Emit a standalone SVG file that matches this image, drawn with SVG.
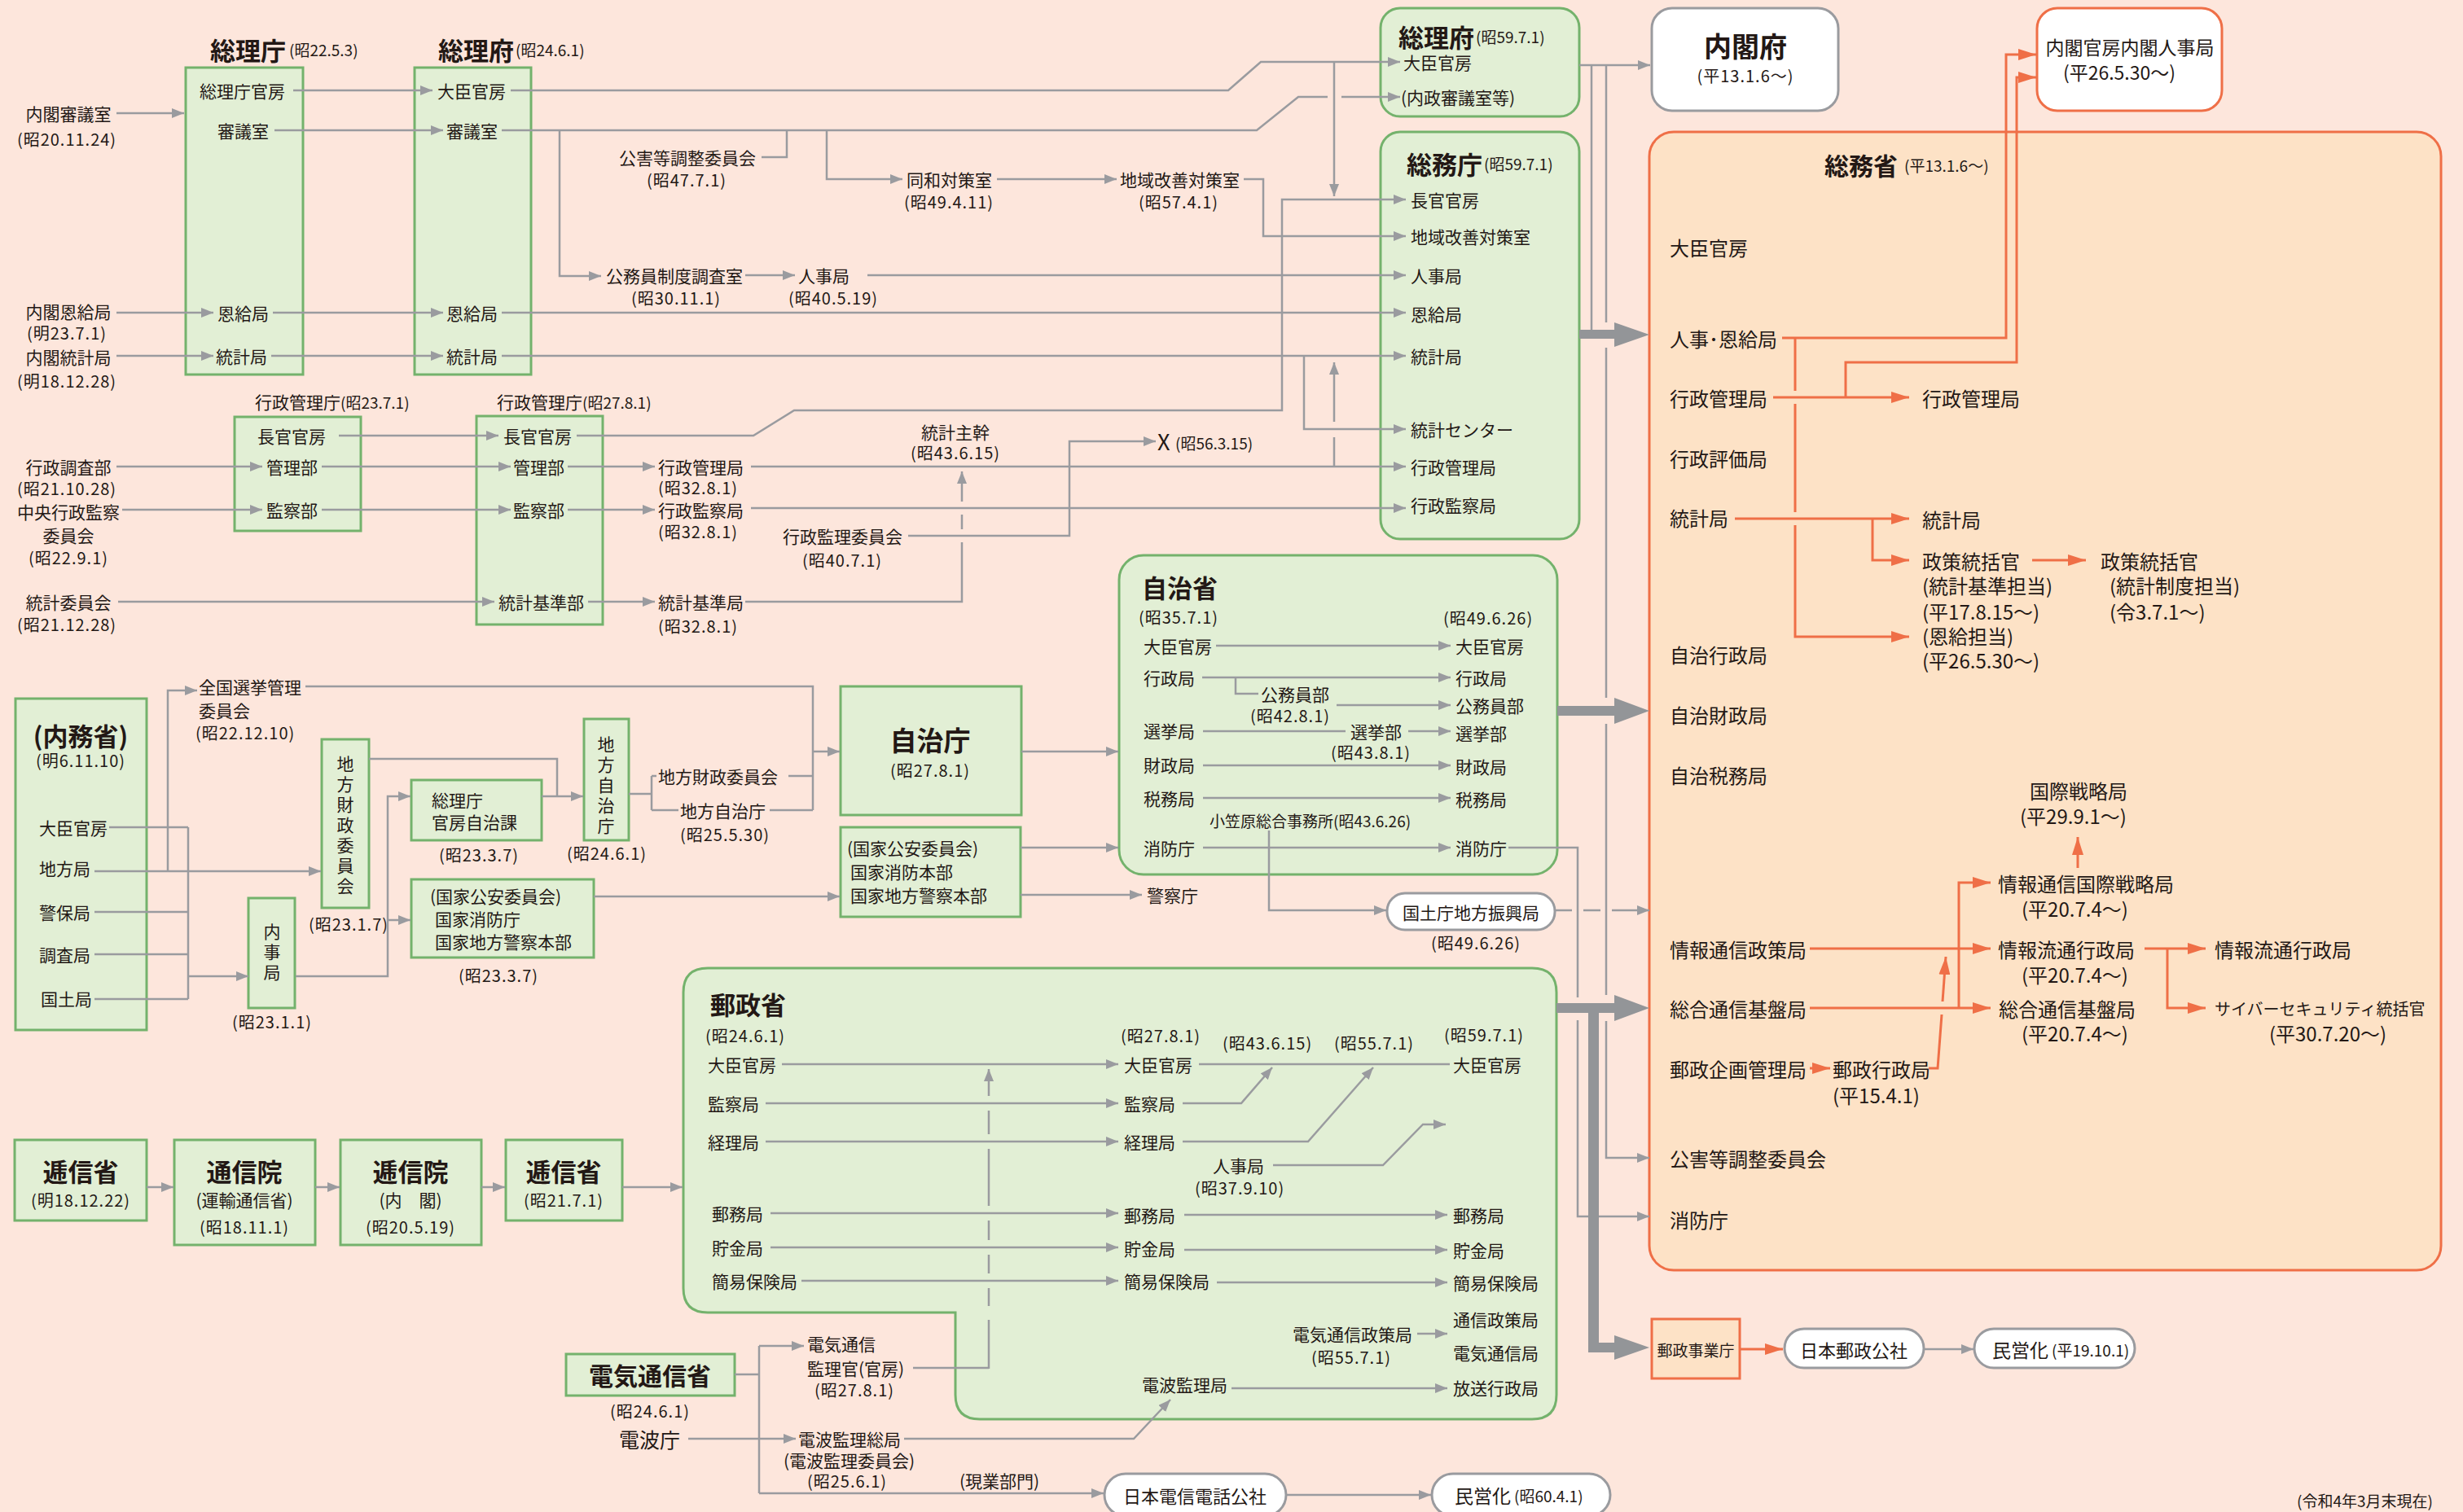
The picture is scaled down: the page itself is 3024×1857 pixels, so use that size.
<svg xmlns="http://www.w3.org/2000/svg" width="3024" height="1857" viewBox="0 0 3024 1857">
<style>
.t{font-family:"Noto Sans CJK JP","Noto Sans CJK SC",sans-serif;font-size:21px;fill:#231815;dominant-baseline:central}
.s{font-size:20px;font-weight:normal;letter-spacing:1px}
.ss{font-size:19px;font-weight:normal}
.b{font-size:31px;font-weight:bold}
.L{font-size:24px}
.m{text-anchor:middle}
.g{fill:#e2efd5;stroke:#74b26c;stroke-width:3}
.o{fill:#fde2c6;stroke:#ef6f47;stroke-width:3}
.w{fill:#fff;stroke:#9a9b9f;stroke-width:3}
.wo{fill:#fff;stroke:#ef6f47;stroke-width:3}
.l{fill:none;stroke:#9a9b9f;stroke-width:2.5}
.a{marker-end:url(#ga)}
.ol{fill:none;stroke:#ef6f47;stroke-width:3}
.oa{marker-end:url(#oa)}
.big{fill:#939598}
</style>
<defs>
<marker id="ga" markerUnits="userSpaceOnUse" markerWidth="15" markerHeight="12" refX="15" refY="6" orient="auto"><path d="M0,0L15,6L0,12z" fill="#9a9b9f"/></marker>
<marker id="oa" markerUnits="userSpaceOnUse" markerWidth="22" markerHeight="14" refX="22" refY="7" orient="auto"><path d="M0,0L22,7L0,14z" fill="#ef6f47"/></marker>
</defs>
<rect x="0" y="0" width="3024" height="1857" fill="#fde6dc"/>

<!-- ===== nodes ===== -->
<g id="naikaku-shingi"><text class="t m" x="84" y="139">内閣審議室</text><text class="t s m" x="82" y="170">(昭20.11.24)</text></g>
<g id="naikaku-onkyu"><text class="t m" x="84" y="382">内閣恩給局</text><text class="t s m" x="82" y="408">(明23.7.1)</text></g>
<g id="naikaku-tokei"><text class="t m" x="84" y="438">内閣統計局</text><text class="t s m" x="82" y="467">(明18.12.28)</text></g>

<g id="soricho">
<text class="t b" x="258" y="60">総理庁<tspan class="ss" dx="4">(昭22.5.3)</tspan></text>
<rect class="g" x="228" y="83" width="144" height="377"/>
<text class="t" x="245" y="111">総理庁官房</text>
<text class="t" x="267" y="160">審議室</text>
<text class="t" x="267" y="384">恩給局</text>
<text class="t" x="265" y="437">統計局</text>
</g>
<g id="sorifu24">
<text class="t b" x="538" y="60">総理府<tspan class="ss" dx="2">(昭24.6.1)</tspan></text>
<rect class="g" x="509" y="83" width="143" height="377"/>
<text class="t" x="537" y="111">大臣官房</text>
<text class="t" x="548" y="160">審議室</text>
<text class="t" x="548" y="384">恩給局</text>
<text class="t" x="548" y="437">統計局</text>
</g>

<g id="kogai"><text class="t" x="760" y="193">公害等調整委員会</text><text class="t s m" x="843" y="220">(昭47.7.1)</text></g>
<g id="dowa"><text class="t" x="1113" y="220">同和対策室</text><text class="t s m" x="1165" y="247">(昭49.4.11)</text></g>
<g id="chiiki"><text class="t" x="1375" y="220">地域改善対策室</text><text class="t s m" x="1447" y="247">(昭57.4.1)</text></g>
<g id="komuin"><text class="t" x="744" y="338">公務員制度調査室</text><text class="t s m" x="830" y="365">(昭30.11.1)</text></g>
<g id="jinji40"><text class="t" x="980" y="338">人事局</text><text class="t s m" x="1023" y="365">(昭40.5.19)</text></g>

<g id="sorifu59">
<rect class="g" x="1695" y="10" width="244" height="133" rx="24"/>
<text class="t b" x="1717" y="44">総理府<tspan class="ss" dx="2">(昭59.7.1)</tspan></text>
<text class="t" x="1723" y="76">大臣官房</text>
<text class="t" x="1720" y="119">(内政審議室等)</text>
</g>
<g id="somucho">
<rect class="g" x="1695" y="162" width="244" height="500" rx="24"/>
<text class="t b" x="1727" y="200">総務庁<tspan class="ss" dx="2">(昭59.7.1)</tspan></text>
<text class="t" x="1732" y="245">長官官房</text>
<text class="t" x="1732" y="290">地域改善対策室</text>
<text class="t" x="1732" y="338">人事局</text>
<text class="t" x="1732" y="385">恩給局</text>
<text class="t" x="1732" y="437">統計局</text>
<text class="t" x="1732" y="527">統計センター</text>
<text class="t" x="1732" y="573">行政管理局</text>
<text class="t" x="1732" y="620">行政監察局</text>
</g>

<g id="naikakufu">
<rect class="w" x="2028" y="10" width="229" height="126" rx="25"/>
<text class="t b m" x="2143" y="55" style="font-size:34px">内閣府</text>
<text class="t s m" x="2143" y="92">(平13.1.6～)</text>
</g>
<g id="jinjikyoku">
<rect class="wo" x="2501" y="10" width="227" height="126" rx="25"/>
<text class="t m" x="2615" y="57" style="font-size:23px">内閣官房内閣人事局</text>
<text class="t m" x="2602" y="88" style="font-size:23px">(平26.5.30～)</text>
</g>

<g id="gyosei-left">
<text class="t m" x="84" y="573">行政調査部</text><text class="t s m" x="82" y="599">(昭21.10.28)</text>
<text class="t m" x="84" y="628">中央行政監察</text><text class="t m" x="84" y="657">委員会</text><text class="t s m" x="84" y="684">(昭22.9.1)</text>
<text class="t m" x="84" y="739">統計委員会</text><text class="t s m" x="82" y="766">(昭21.12.28)</text>
</g>
<g id="gyoseikanricho23">
<text class="t" x="313" y="493">行政管理庁<tspan class="ss">(昭23.7.1)</tspan></text>
<rect class="g" x="288" y="512" width="155" height="140"/>
<text class="t" x="316" y="535">長官官房</text>
<text class="t" x="327" y="573">管理部</text>
<text class="t" x="327" y="626">監察部</text>
</g>
<g id="gyoseikanricho27">
<text class="t" x="610" y="493">行政管理庁<tspan class="ss">(昭27.8.1)</tspan></text>
<rect class="g" x="585" y="511" width="155" height="256"/>
<text class="t" x="618" y="535">長官官房</text>
<text class="t" x="630" y="573">管理部</text>
<text class="t" x="630" y="626">監察部</text>
<text class="t" x="612" y="739">統計基準部</text>
</g>
<g id="gyosei32">
<text class="t" x="808" y="573">行政管理局</text><text class="t s" x="808" y="598">(昭32.8.1)</text>
<text class="t" x="808" y="626">行政監察局</text><text class="t s" x="808" y="652">(昭32.8.1)</text>
<text class="t" x="808" y="739">統計基準局</text><text class="t s" x="808" y="768">(昭32.8.1)</text>
</g>
<g id="tokeishukan"><text class="t m" x="1173" y="530">統計主幹</text><text class="t s m" x="1173" y="555">(昭43.6.15)</text></g>
<g id="kanri-iinkai"><text class="t" x="961" y="658">行政監理委員会</text><text class="t s m" x="1034" y="687">(昭40.7.1)</text></g>
<g id="haishi56"><text class="t" x="1421" y="541" style="font-size:27px">X</text><text class="t ss" x="1443" y="543">(昭56.3.15)</text></g>

<!-- 総務省 -->
<g id="somusho">
<rect class="o" x="2025" y="162" width="972" height="1398" rx="30"/>
<text class="t b" x="2240" y="202" style="font-size:30px">総務省<tspan class="ss" dx="8">(平13.1.6～)</tspan></text>
<text class="t L" x="2050" y="303">大臣官房</text>
<text class="t L" x="2050" y="415">人事･恩給局</text>
<text class="t L" x="2050" y="488">行政管理局</text>
<text class="t L" x="2050" y="562">行政評価局</text>
<text class="t L" x="2050" y="635">統計局</text>
<text class="t L" x="2050" y="803">自治行政局</text>
<text class="t L" x="2050" y="877">自治財政局</text>
<text class="t L" x="2050" y="951">自治税務局</text>
<text class="t L" x="2050" y="1165">情報通信政策局</text>
<text class="t L" x="2050" y="1238">総合通信基盤局</text>
<text class="t L" x="2050" y="1312">郵政企画管理局</text>
<text class="t L" x="2050" y="1422">公害等調整委員会</text>
<text class="t L" x="2050" y="1497">消防庁</text>
<text class="t L" x="2360" y="488">行政管理局</text>
<text class="t L" x="2360" y="637">統計局</text>
<text class="t L" x="2360" y="688">政策統括官</text>
<text class="t L" x="2360" y="718">(統計基準担当)</text>
<text class="t L" x="2360" y="750">(平17.8.15～)</text>
<text class="t L" x="2360" y="780">(恩給担当)</text>
<text class="t L" x="2360" y="810">(平26.5.30～)</text>
<text class="t L" x="2579" y="688">政策統括官</text>
<text class="t L" x="2590" y="718">(統計制度担当)</text>
<text class="t L" x="2590" y="750">(令3.7.1～)</text>
<text class="t L" x="2492" y="970">国際戦略局</text>
<text class="t L" x="2480" y="1001">(平29.9.1～)</text>
<text class="t L" x="2453" y="1084">情報通信国際戦略局</text>
<text class="t L" x="2482" y="1115">(平20.7.4～)</text>
<text class="t L" x="2453" y="1165">情報流通行政局</text>
<text class="t L" x="2482" y="1196">(平20.7.4～)</text>
<text class="t L" x="2454" y="1238">総合通信基盤局</text>
<text class="t L" x="2482" y="1268">(平20.7.4～)</text>
<text class="t L" x="2250" y="1312">郵政行政局</text>
<text class="t L" x="2250" y="1344">(平15.4.1)</text>
<text class="t L" x="2719" y="1165">情報流通行政局</text>
<text class="t" x="2719" y="1238" style="font-size:20px">サイバーセキュリティ統括官</text>
<text class="t L m" x="2858" y="1268">(平30.7.20～)</text>
</g>

<g id="yuseijigyocho"><rect class="o" x="2028" y="1620" width="108" height="73"/><text class="t m" x="2082" y="1657" style="font-size:19px">郵政事業庁</text></g>
<g id="yuseikosha"><rect class="w" x="2191" y="1632" width="171" height="48" rx="24"/><text class="t m" x="2276" y="1657" style="font-size:22px">日本郵政公社</text></g>
<g id="mineika19"><rect class="w" x="2424" y="1632" width="197" height="48" rx="24"/><text class="t" x="2446" y="1657" style="font-size:23px">民営化<tspan class="ss" dx="4">(平19.10.1)</tspan></text></g>

<!-- 内務省・自治 -->
<g id="naimusho">
<rect class="g" x="19" y="858" width="161" height="407"/>
<text class="t b m" x="99" y="902">(内務省)</text>
<text class="t s m" x="99" y="933">(明6.11.10)</text>
<text class="t" x="48" y="1016">大臣官房</text>
<text class="t" x="48" y="1066">地方局</text>
<text class="t" x="48" y="1120">警保局</text>
<text class="t" x="48" y="1172">調査局</text>
<text class="t" x="50" y="1226">国土局</text>
</g>
<g id="senkyo"><text class="t" x="244" y="843">全国選挙管理</text><text class="t" x="244" y="872">委員会</text><text class="t s" x="240" y="899">(昭22.12.10)</text></g>
<g id="chihozaisei23">
<rect class="g" x="395" y="908" width="58" height="207"/>
<text class="t m" x="424" y="937">地</text><text class="t m" x="424" y="962">方</text><text class="t m" x="424" y="987">財</text><text class="t m" x="424" y="1012">政</text><text class="t m" x="424" y="1037">委</text><text class="t m" x="424" y="1062">員</text><text class="t m" x="424" y="1087">会</text>
<text class="t s m" x="428" y="1134">(昭23.1.7)</text>
</g>
<g id="naijikyoku">
<rect class="g" x="305" y="1103" width="57" height="135"/>
<text class="t m" x="334" y="1143">内</text><text class="t m" x="334" y="1168">事</text><text class="t m" x="334" y="1193">局</text>
<text class="t s m" x="334" y="1254">(昭23.1.1)</text>
</g>
<g id="jichika">
<rect class="g" x="505" y="958" width="160" height="74"/>
<text class="t" x="530" y="982">総理庁</text><text class="t" x="530" y="1009">官房自治課</text>
<text class="t s m" x="588" y="1049">(昭23.3.7)</text>
</g>
<g id="kokka1">
<rect class="g" x="505" y="1080" width="224" height="96"/>
<text class="t" x="528" y="1100">(国家公安委員会)</text>
<text class="t" x="534" y="1128">国家消防庁</text>
<text class="t" x="534" y="1156">国家地方警察本部</text>
<text class="t s m" x="612" y="1197">(昭23.3.7)</text>
</g>
<g id="chihojichicho">
<rect class="g" x="717" y="883" width="55" height="149"/>
<text class="t m" x="744" y="913">地</text><text class="t m" x="744" y="938">方</text><text class="t m" x="744" y="963">自</text><text class="t m" x="744" y="988">治</text><text class="t m" x="744" y="1013">庁</text>
<text class="t s m" x="745" y="1047">(昭24.6.1)</text>
</g>
<g id="chiho25"><text class="t" x="808" y="953">地方財政委員会</text><text class="t" x="835" y="995">地方自治庁</text><text class="t s m" x="890" y="1024">(昭25.5.30)</text></g>
<g id="jichicho">
<rect class="g" x="1032" y="843" width="222" height="158"/>
<text class="t b m" x="1142" y="908" style="font-size:33px">自治庁</text>
<text class="t s m" x="1142" y="945">(昭27.8.1)</text>
</g>
<g id="kokka2">
<rect class="g" x="1032" y="1016" width="221" height="110"/>
<text class="t" x="1040" y="1041">(国家公安委員会)</text>
<text class="t" x="1044" y="1070">国家消防本部</text>
<text class="t" x="1044" y="1099">国家地方警察本部</text>
</g>
<g id="keisatsucho"><text class="t" x="1408" y="1099">警察庁</text></g>
<g id="jichisho">
<rect class="g" x="1374" y="682" width="538" height="392" rx="30"/>
<text class="t b" x="1402" y="720">自治省</text>
<text class="t s" x="1398" y="757">(昭35.7.1)</text>
<text class="t s" x="1772" y="758">(昭49.6.26)</text>
<text class="t" x="1404" y="793">大臣官房</text>
<text class="t" x="1404" y="832">行政局</text>
<text class="t" x="1404" y="897">選挙局</text>
<text class="t" x="1404" y="939">財政局</text>
<text class="t" x="1404" y="980">税務局</text>
<text class="t" x="1404" y="1041">消防庁</text>
<text class="t" x="1548" y="852">公務員部</text><text class="t s" x="1535" y="878">(昭42.8.1)</text>
<text class="t" x="1658" y="898">選挙部</text><text class="t s" x="1634" y="923">(昭43.8.1)</text>
<text class="t ss" x="1485" y="1007">小笠原総合事務所(昭43.6.26)</text>
<text class="t" x="1787" y="793">大臣官房</text>
<text class="t" x="1787" y="832">行政局</text>
<text class="t" x="1787" y="866">公務員部</text>
<text class="t" x="1787" y="900">選挙部</text>
<text class="t" x="1787" y="941">財政局</text>
<text class="t" x="1787" y="981">税務局</text>
<text class="t" x="1787" y="1041">消防庁</text>
</g>
<g id="kokudocho">
<rect class="w" x="1703" y="1097" width="206" height="45" rx="22"/>
<text class="t m" x="1806" y="1120">国土庁地方振興局</text>
<text class="t s m" x="1812" y="1157">(昭49.6.26)</text>
</g>

<!-- 逓信 -->
<g id="teishin18"><rect class="g" x="18" y="1400" width="162" height="99"/><text class="t b m" x="99" y="1437">逓信省</text><text class="t s m" x="99" y="1473">(明18.12.22)</text></g>
<g id="tsushinin"><rect class="g" x="214" y="1400" width="173" height="129"/><text class="t b m" x="300" y="1437">通信院</text><text class="t m" x="300" y="1473">(運輸通信省)</text><text class="t s m" x="300" y="1506">(昭18.11.1)</text></g>
<g id="teishinin"><rect class="g" x="418" y="1400" width="173" height="129"/><text class="t b m" x="504" y="1437">逓信院</text><text class="t m" x="504" y="1473">(内　閣)</text><text class="t s m" x="504" y="1506">(昭20.5.19)</text></g>
<g id="teishin21"><rect class="g" x="621" y="1400" width="143" height="99"/><text class="t b m" x="692" y="1437">逓信省</text><text class="t s m" x="692" y="1473">(昭21.7.1)</text></g>

<g id="yuseisho">
<path class="g" d="M869,1189H1881Q1911,1189 1911,1219V1713Q1911,1743 1881,1743H1203Q1173,1743 1173,1713V1612H869Q839,1612 839,1582V1219Q839,1189 869,1189Z"/>
<text class="t b" x="872" y="1232">郵政省</text>
<text class="t s" x="866" y="1271">(昭24.6.1)</text>
<text class="t" x="869" y="1307">大臣官房</text>
<text class="t" x="869" y="1355">監察局</text>
<text class="t" x="869" y="1402">経理局</text>
<text class="t" x="874" y="1490">郵務局</text>
<text class="t" x="874" y="1532">貯金局</text>
<text class="t" x="874" y="1573">簡易保険局</text>
<text class="t s" x="1376" y="1271">(昭27.8.1)</text>
<text class="t" x="1380" y="1307">大臣官房</text>
<text class="t" x="1380" y="1355">監察局</text>
<text class="t" x="1380" y="1402">経理局</text>
<text class="t" x="1380" y="1492">郵務局</text>
<text class="t" x="1380" y="1533">貯金局</text>
<text class="t" x="1380" y="1573">簡易保険局</text>
<text class="t s" x="1501" y="1280">(昭43.6.15)</text>
<text class="t s" x="1638" y="1280">(昭55.7.1)</text>
<text class="t s" x="1773" y="1270">(昭59.7.1)</text>
<text class="t" x="1489" y="1431">人事局</text><text class="t s" x="1467" y="1458">(昭37.9.10)</text>
<text class="t" x="1784" y="1307">大臣官房</text>
<text class="t" x="1784" y="1492">郵務局</text>
<text class="t" x="1784" y="1535">貯金局</text>
<text class="t" x="1784" y="1575">簡易保険局</text>
<text class="t" x="1784" y="1620">通信政策局</text>
<text class="t" x="1784" y="1661">電気通信局</text>
<text class="t" x="1784" y="1704">放送行政局</text>
<text class="t" x="1587" y="1638">電気通信政策局</text><text class="t s" x="1610" y="1666">(昭55.7.1)</text>
<text class="t" x="1402" y="1700">電波監理局</text>
</g>
<g id="denkitsushinsho"><rect class="g" x="695" y="1663" width="207" height="51"/><text class="t b m" x="798" y="1688" style="font-size:30px">電気通信省</text><text class="t s m" x="798" y="1732">(昭24.6.1)</text></g>
<g id="denpacho"><text class="t" x="760" y="1767" style="font-size:25px">電波庁</text></g>
<g id="kanrikan"><text class="t" x="991" y="1650">電気通信</text><text class="t" x="991" y="1680">監理官(官房)</text><text class="t s" x="1000" y="1706">(昭27.8.1)</text></g>
<g id="denpasokyoku"><text class="t" x="980" y="1767">電波監理総局</text><text class="t" x="962" y="1793">(電波監理委員会)</text><text class="t s m" x="1040" y="1818">(昭25.6.1)</text></g>
<g id="genbu"><text class="t" x="1178" y="1818">(現業部門)</text></g>
<g id="denden"><rect class="w" x="1356" y="1810" width="223" height="52" rx="26"/><text class="t m" x="1467" y="1836" style="font-size:22px">日本電信電話公社</text></g>
<g id="mineika60"><rect class="w" x="1758" y="1810" width="219" height="52" rx="26"/><text class="t" x="1786" y="1836" style="font-size:23px">民営化<tspan class="ss" dx="4">(昭60.4.1)</tspan></text></g>

<text class="t ss" x="2820" y="1842">(令和4年3月末現在)</text>

<!-- ===== connectors ===== -->
<g id="connectors">
<path class="l a" d="M143,139H226"/>
<path class="l a" d="M143,384H262"/>
<path class="l a" d="M143,437H262"/>
<path class="l a" d="M360,111H531"/>
<path class="l a" d="M337,160H544"/>
<path class="l a" d="M335,384H544"/>
<path class="l a" d="M333,437H544"/>
<path class="l a" d="M627,111H1508L1548,76H1719"/>
<path class="l a" d="M1638,76V241"/>
<path class="l" d="M616,160H1543L1594,119H1630"/>
<path class="l a" d="M1647,119H1719"/>
<path class="l a" d="M687,160V339H738"/>
<path class="l" d="M935,193H966V160"/>
<path class="l a" d="M1015,160V220H1108"/>
<path class="l a" d="M1224,220H1371"/>
<path class="l a" d="M1527,220H1551V290H1726"/>
<path class="l a" d="M915,338H976"/>
<path class="l a" d="M1065,338H1726"/>
<path class="l a" d="M616,384H1726"/>
<path class="l a" d="M616,437H1726"/>
<path class="l a" d="M1601,437V527H1726"/>
<path class="l a" d="M416,535H612"/>
<path class="l a" d="M143,573H322"/>
<path class="l a" d="M395,573H627"/>
<path class="l a" d="M150,626H322"/>
<path class="l a" d="M395,626H627"/>
<path class="l a" d="M145,739H607"/>
<path class="l a" d="M708,535H925L975,504H1574V245H1726"/>
<path class="l a" d="M697,573H804"/>
<path class="l a" d="M697,626H804"/>
<path class="l a" d="M722,739H804"/>
<path class="l a" d="M922,573H1726"/>
<path class="l a" d="M922,624H1726"/>
<path class="l" d="M915,739H1181V666M1181,650V632"/>
<path class="l a" d="M1181,616V579"/>
<path class="l a" d="M1115,658H1313V542H1419"/>
<path class="l" d="M1638,573V537"/>
<path class="l a" d="M1638,518V445"/>
<path class="l a" d="M1939,80H2026"/>
<path class="l" d="M1954,80V405"/>
<path class="l" d="M1972,80V396M1972,427V857M1972,889V1222"/>
<path class="l a" d="M1972,1254V1422H2025"/>
<!-- 内務省 -->
<path class="l" d="M134,1016H231M116,1120H231M116,1172H231M116,1227H231M231,1016V1227"/>
<path class="l a" d="M116,1070H394"/>
<path class="l a" d="M206,1070V848H242"/>
<path class="l a" d="M231,1199H305"/>
<path class="l" d="M375,843H998V995"/>
<path class="l a" d="M998,923H1031"/>
<path class="l" d="M453,932H684V978"/>
<path class="l a" d="M665,978H716"/>
<path class="l a" d="M363,1199H476V978H504"/>
<path class="l a" d="M476,1130H504"/>
<path class="l" d="M772,975H800M800,953V995M800,953H806M800,995H833M968,953H998M945,995H998"/>
<path class="l a" d="M729,1101H1031"/>
<path class="l a" d="M1253,1041H1373"/>
<path class="l a" d="M1253,1099H1402"/>
<path class="l a" d="M1254,923H1373"/>
<!-- 自治省 -->
<path class="l a" d="M1493,793H1781"/>
<path class="l a" d="M1476,832H1781"/>
<path class="l" d="M1517,832V852H1545"/>
<path class="l a" d="M1641,866H1781"/>
<path class="l" d="M1477,898H1652"/>
<path class="l a" d="M1729,898H1781"/>
<path class="l a" d="M1477,940H1781"/>
<path class="l a" d="M1477,980H1781"/>
<path class="l a" d="M1477,1041H1781"/>
<path class="l a" d="M1558,1020V1118H1702"/>
<path class="l" d="M1909,1118H1930M1944,1118H1965"/>
<path class="l a" d="M1979,1118H2025"/>
<path class="l" d="M1852,1041H1937V1225"/>
<path class="l a" d="M1937,1253V1494H2025"/>
<!-- 逓信 -->
<path class="l a" d="M180,1458H213"/>
<path class="l a" d="M387,1458H417"/>
<path class="l a" d="M591,1458H620"/>
<path class="l a" d="M764,1458H838"/>
<!-- 郵政省 -->
<path class="l a" d="M960,1307H1373"/>
<path class="l a" d="M940,1355H1373"/>
<path class="l a" d="M940,1402H1373"/>
<path class="l a" d="M946,1490H1373"/>
<path class="l a" d="M946,1532H1373"/>
<path class="l a" d="M984,1573H1373"/>
<path class="l" d="M1214,1681V1621M1214,1604V1582M1214,1564V1541M1214,1523V1499M1214,1481V1411M1214,1393V1364"/>
<path class="l a" d="M1214,1346V1313"/>
<path class="l" d="M1472,1307H1780"/>
<path class="l a" d="M1452,1355H1524L1562,1311"/>
<path class="l a" d="M1452,1402H1606L1686,1311"/>
<path class="l a" d="M1563,1431H1698L1747,1381H1775"/>
<path class="l a" d="M1454,1492H1777"/>
<path class="l a" d="M1454,1535H1777"/>
<path class="l a" d="M1494,1575H1777"/>
<path class="l a" d="M1740,1638H1777"/>
<path class="l a" d="M1512,1705H1777"/>
<!-- 電気通信省 -->
<path class="l" d="M902,1688H932M932,1653V1834"/>
<path class="l a" d="M932,1653H987"/>
<path class="l a" d="M932,1834H1355"/>
<path class="l a" d="M845,1767H977"/>
<path class="l" d="M1121,1680H1214"/>
<path class="l a" d="M1110,1767H1392L1437,1719"/>
<path class="l a" d="M1579,1836H1757"/>
<path class="l a" d="M2362,1657H2423"/>
<!-- orange -->
<path class="ol oa" d="M2188,415H2463V67H2500"/>
<path class="ol" d="M2204,415V480M2204,496V629"/>
<path class="ol oa" d="M2204,645V782H2344"/>
<path class="ol oa" d="M2177,488H2344"/>
<path class="ol oa" d="M2266,488V445H2476V95H2500"/>
<path class="ol oa" d="M2130,637H2344"/>
<path class="ol oa" d="M2299,637V688H2344"/>
<path class="ol oa" d="M2495,688H2561"/>
<path class="ol oa" d="M2222,1165H2444"/>
<path class="ol oa" d="M2222,1238H2444"/>
<path class="ol oa" d="M2405,1238V1084H2444"/>
<path class="ol oa" d="M2551,1066V1028"/>
<path class="ol oa" d="M2222,1312H2247"/>
<path class="ol" d="M2368,1312H2379L2384,1246"/>
<path class="ol oa" d="M2385,1230L2389,1175"/>
<path class="ol oa" d="M2633,1165H2708"/>
<path class="ol oa" d="M2661,1165V1238H2708"/>
<path class="ol oa" d="M2136,1657H2189"/>
<!-- big arrows -->
<rect class="big" x="1939" y="405" width="44" height="11"/>
<polygon class="big" points="1982,396 2025,411 1982,426"/>
<rect class="big" x="1912" y="867" width="71" height="12"/>
<polygon class="big" points="1982,857 2025,873 1982,889"/>
<rect class="big" x="1911" y="1232" width="72" height="12"/>
<polygon class="big" points="1982,1222 2025,1238 1982,1254"/>
<rect class="big" x="1950" y="1232" width="13" height="429"/>
<rect class="big" x="1950" y="1649" width="33" height="12"/>
<polygon class="big" points="1982,1640 2025,1655 1982,1670"/>
</g>
</svg>
